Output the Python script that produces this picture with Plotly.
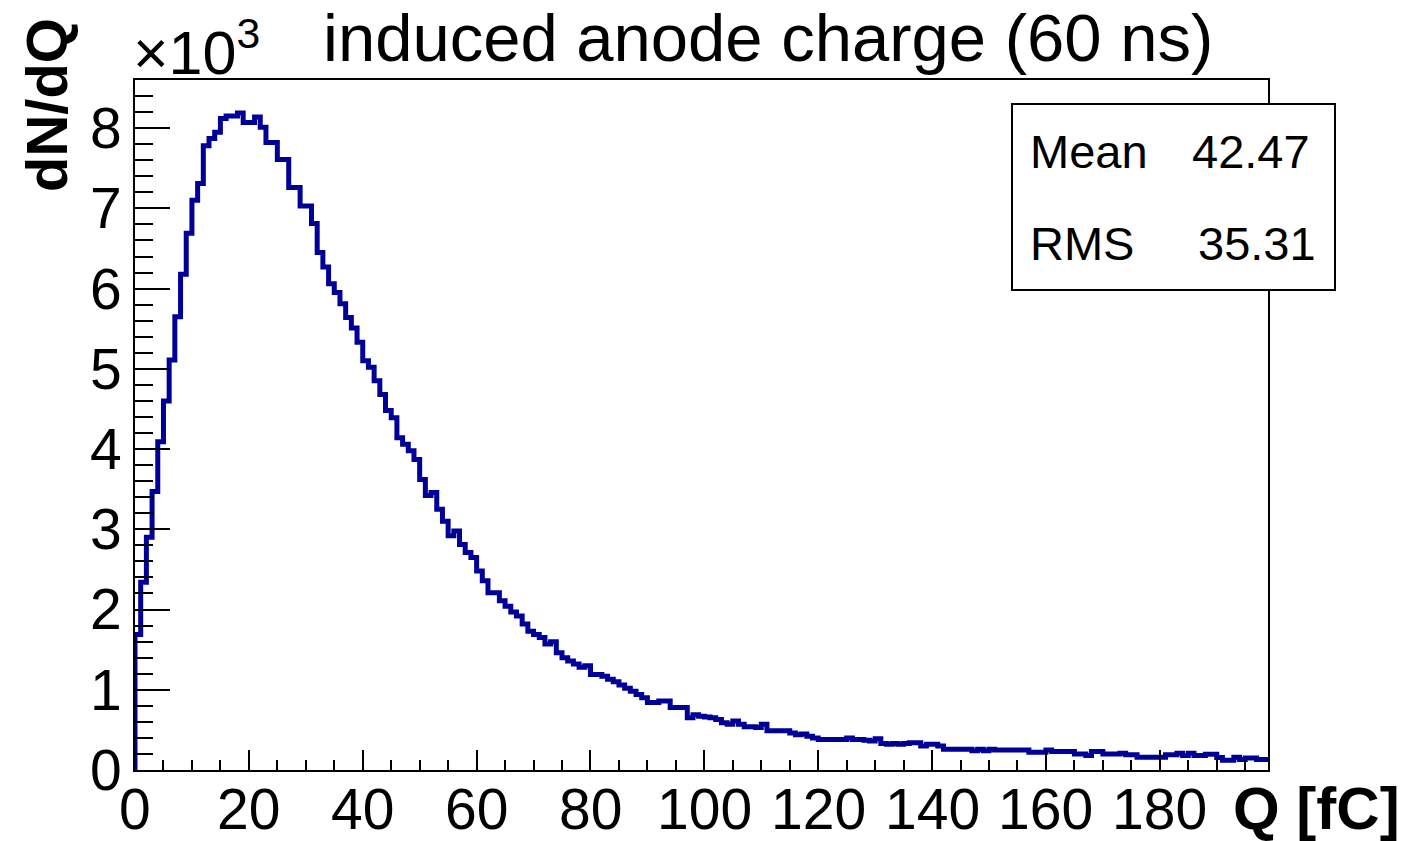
import plotly.graph_objects as go

# ---------------- data ----------------
title_text = "induced anode charge (60 ns)"
x_title = "Q [fC]"
y_title = "dN/dQ"
q_min = 0.0
bin_width = 1.0   # fC
# bin contents in units of 10^3 entries, bins 0..198
counts_k = [
    1.69, 2.34, 2.90, 3.47, 4.09, 4.60, 5.11, 5.65, 6.18, 6.69,
    7.10, 7.31, 7.78, 7.87, 7.95, 8.12, 8.15, 8.15, 8.19, 8.07,
    8.07, 8.14, 8.01, 7.82, 7.82, 7.61, 7.61, 7.26, 7.26, 7.03,
    7.03, 6.81, 6.45, 6.27, 6.06, 5.95, 5.81, 5.64, 5.51, 5.33,
    5.10, 5.02, 4.85, 4.68, 4.48, 4.39, 4.14, 4.06, 3.98, 3.87,
    3.62, 3.42, 3.46, 3.25, 3.10, 2.92, 2.98, 2.81, 2.71, 2.65,
    2.48, 2.36, 2.21, 2.21, 2.11, 2.04, 1.97, 1.92, 1.82, 1.73,
    1.69, 1.65, 1.57, 1.60, 1.46, 1.40, 1.36, 1.32, 1.28, 1.30,
    1.19, 1.19, 1.17, 1.13, 1.10, 1.06, 1.02, 0.98, 0.94, 0.90,
    0.84, 0.84, 0.86, 0.86, 0.78, 0.78, 0.78, 0.65, 0.69, 0.67,
    0.66, 0.65, 0.63, 0.59, 0.57, 0.61, 0.57, 0.54, 0.54, 0.53,
    0.57, 0.49, 0.49, 0.49, 0.49, 0.46, 0.44, 0.45, 0.42, 0.40,
    0.38, 0.38, 0.38, 0.38, 0.38, 0.40, 0.38, 0.38, 0.37, 0.36,
    0.39, 0.33, 0.32, 0.33, 0.32, 0.33, 0.34, 0.34, 0.30, 0.32,
    0.32, 0.30, 0.26, 0.26, 0.26, 0.26, 0.26, 0.24, 0.26, 0.24,
    0.26, 0.25, 0.25, 0.25, 0.25, 0.25, 0.25, 0.22, 0.22, 0.22,
    0.25, 0.23, 0.23, 0.23, 0.23, 0.20, 0.20, 0.18, 0.23, 0.23,
    0.20, 0.20, 0.20, 0.21, 0.19, 0.19, 0.16, 0.16, 0.16, 0.16,
    0.16, 0.19, 0.19, 0.21, 0.18, 0.21, 0.18, 0.18, 0.195, 0.195,
    0.155, 0.12, 0.12, 0.16, 0.13, 0.15, 0.15, 0.13, 0.13,
]
stats_labels = ["Mean", "RMS"]
stats_values = ["42.47", "35.31"]
x_tick_values = [0, 20, 40, 60, 80, 100, 120, 140, 160, 180]
y_tick_values = [0, 1, 2, 3, 4, 5, 6, 7, 8]
x_range = [0, 199]
y_range = [0, 8.60]

# ---------------- build step outline ----------------
edges = [q_min + i * bin_width for i in range(len(counts_k) + 1)]
xs = [edges[0]] + edges[:-1] + [edges[-1]]
ys = [0.0] + counts_k + [counts_k[-1]]

W, H = 1412, 841
L, R, T, B = 135, 1268, 80, 770
FONT = "Liberation Sans, Arial, Helvetica, sans-serif"


def px(xp):
    return (xp - L) / (R - L)


def py(yp):
    return (B - yp) / (B - T)


fig = go.Figure()
fig.add_trace(go.Scatter(
    x=xs, y=ys, mode="lines", line=dict(color="#000099", width=5, shape="hv"),
    hoverinfo="skip", showlegend=False,
))

axis_common = dict(
    showgrid=False, zeroline=False, showline=True, linecolor="black",
    linewidth=2, mirror=True, ticks="inside", tickcolor="black", tickwidth=2,
    automargin=False,
    tickfont=dict(family=FONT, size=57, color="black"),
)
fig.update_xaxes(range=x_range, tickvals=x_tick_values, ticklen=20,
                 showticklabels=False,
                 minor=dict(dtick=5, tick0=0, ticks="inside", ticklen=10,
                            tickwidth=2, tickcolor="black"),
                 **axis_common)
fig.update_yaxes(range=y_range, tickvals=y_tick_values, ticklen=35,
                 minor=dict(dtick=0.2, tick0=0, ticks="inside", ticklen=18,
                            tickwidth=2, tickcolor="black"),
                 **axis_common)

ann = []
# x tick labels
for v in x_tick_values:
    ann.append(dict(text=str(v), x=v, y=py(809), xref="x", yref="paper",
                    xanchor="center", yanchor="middle", showarrow=False,
                    font=dict(family=FONT, size=57, color="black")))
# title
ann.append(dict(text=title_text, x=px(768), y=py(38), xref="paper", yref="paper",
                xanchor="center", yanchor="middle", showarrow=False,
                font=dict(family=FONT, size=67, color="black")))
# exponent
ann.append(dict(text="\u00d710<sup>3</sup>", x=px(131), y=py(48), xref="paper", yref="paper",
                xanchor="left", yanchor="middle", showarrow=False,
                font=dict(family=FONT, size=61, color="black")))
# y title
ann.append(dict(text="<b>" + y_title + "</b>", x=px(46), y=py(105), xref="paper", yref="paper",
                xanchor="center", yanchor="middle", textangle=-90, showarrow=False,
                font=dict(family=FONT, size=58, color="black")))
# x title
ann.append(dict(text="<b>" + x_title + "</b>", x=px(1402), y=py(808), xref="paper", yref="paper",
                xanchor="right", yanchor="middle", showarrow=False,
                font=dict(family=FONT, size=60, color="black")))
# stats box text
rows_y = [152, 243]
right_x = [1312, 1318]
for lab, val, yy, rx in zip(stats_labels, stats_values, rows_y, right_x):
    ann.append(dict(text=lab, x=px(1028), y=py(yy), xref="paper", yref="paper",
                    xanchor="left", yanchor="middle", showarrow=False,
                    font=dict(family=FONT, size=47, color="black")))
    ann.append(dict(text=val, x=px(rx), y=py(yy), xref="paper", yref="paper",
                    xanchor="right", yanchor="middle", showarrow=False,
                    font=dict(family=FONT, size=47, color="black")))

fig.update_layout(
    width=W, height=H,
    margin=dict(l=L, r=W - R, t=T, b=H - B, pad=0, autoexpand=False),
    paper_bgcolor="white", plot_bgcolor="white",
    annotations=ann,
    shapes=[dict(type="rect", xref="paper", yref="paper",
                 x0=px(1012), x1=px(1335), y0=py(290), y1=py(104),
                 line=dict(color="black", width=2), fillcolor="white", layer="above")],
    showlegend=False,
)

fig.write_html("out.html", config={"displayModeBar": False},
               post_script="document.body.style.margin='0';")
